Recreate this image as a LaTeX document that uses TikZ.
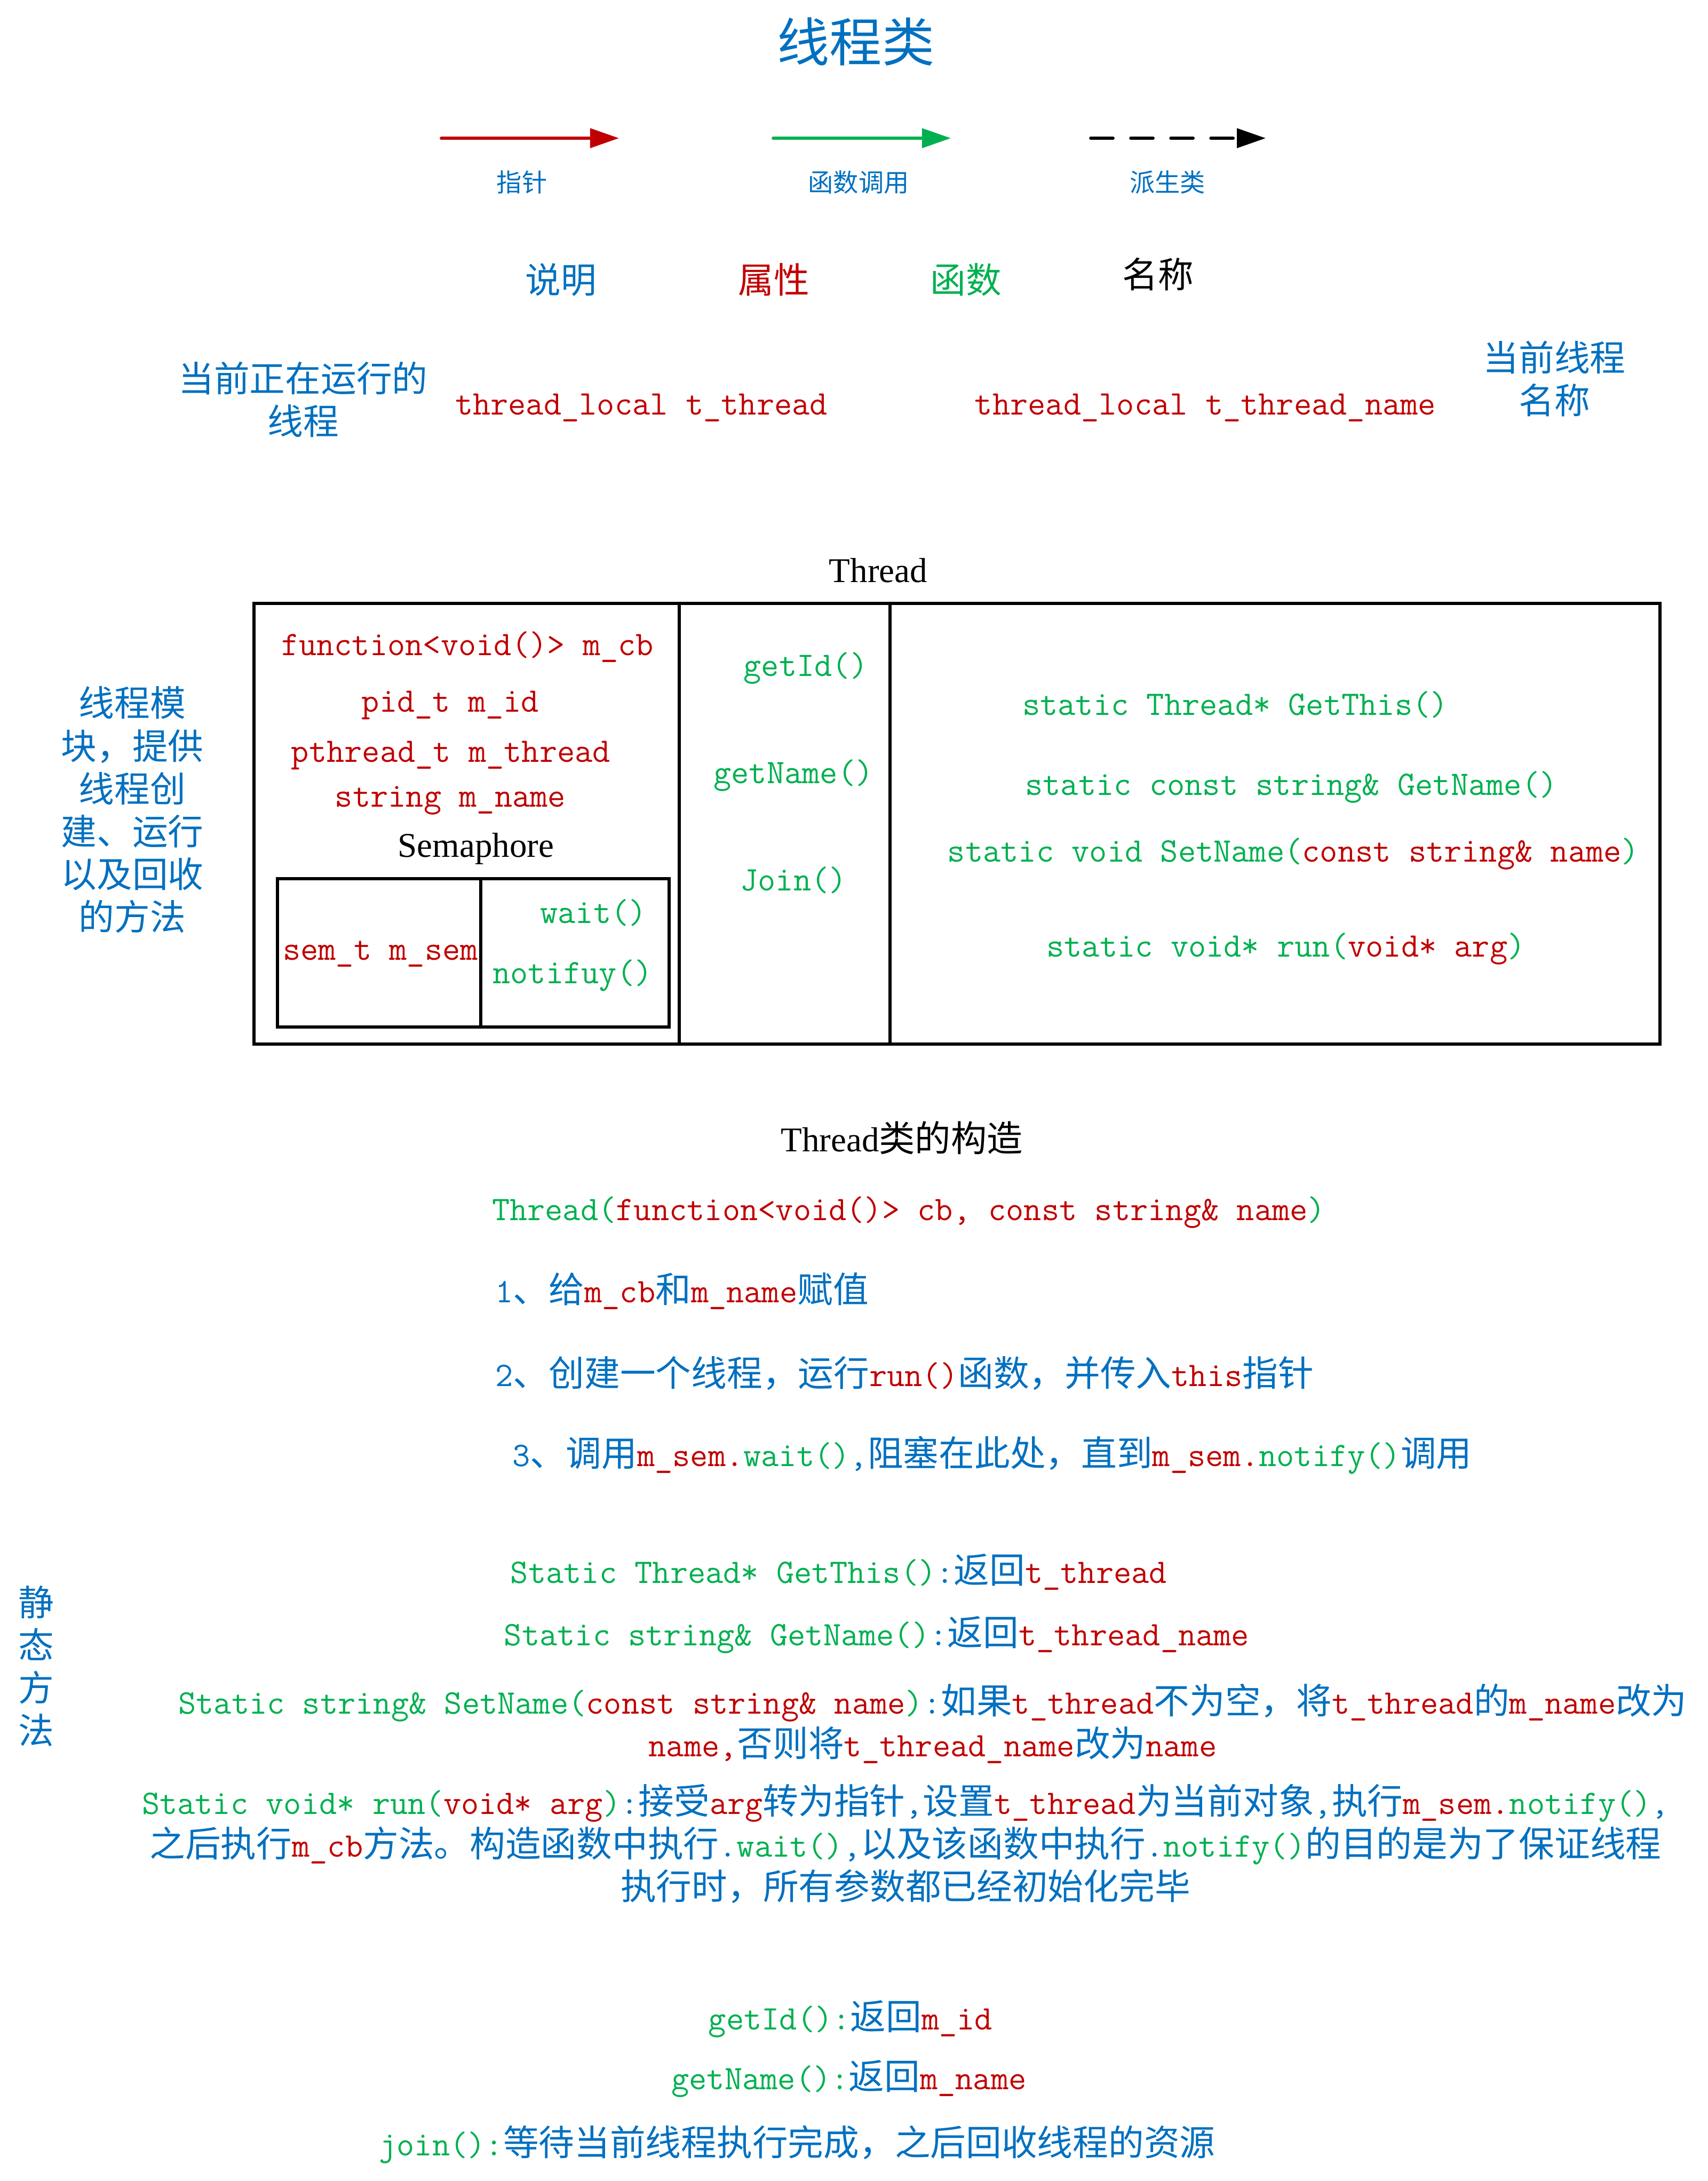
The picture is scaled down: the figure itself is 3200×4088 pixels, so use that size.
\documentclass[tikz,border=0pt]{standalone}
\usepackage{fontspec}
\setmainfont{Liberation Serif}
\newfontfamily\cjk[Scale=1.034]{Noto Sans CJK SC}
\usetikzlibrary{arrows.meta}
\definecolor{cblue}{HTML}{0070C0}
\definecolor{cred}{HTML}{C00000}
\definecolor{cgreen}{HTML}{00B050}
\newcommand\zh[1]{{\cjk #1}}
\newcommand\tr[1]{\textcolor{cred}{#1}}
\newcommand\tg[1]{\textcolor{cgreen}{#1}}
\newcommand\tb[1]{\textcolor{cblue}{#1}}
\newcommand\bodyfont{\fontsize{18.35pt}{22.8pt}\selectfont\ttfamily}
\newcommand\serfont{\fontsize{18.5pt}{22.8pt}\selectfont\rmfamily}
\tikzset{
  txt/.style={inner sep=0pt, font=\bodyfont, align=center},
  stxt/.style={inner sep=0pt, font=\serfont, align=center},
  legtxt/.style={inner sep=0pt, font=\fontsize{13pt}{16pt}\selectfont\cjk, text=cblue},
  boxline/.style={line width=1.85pt, line join=miter},
  legarrow/.style={line width=1.62pt, line cap=round, -{Triangle[length=0.54cm,width=0.36cm]}},
}
\begin{document}
\begin{tikzpicture}[x=0.01cm,y=-0.01cm]
\useasboundingbox (0,0) rectangle (3200,4088);
% title
\node[inner sep=0pt, font=\fontsize{27pt}{30pt}\selectfont\cjk, text=cblue] (title) at (1604,78) {线程类};
% legend
\coordinate (ra) at (827,259); \coordinate (rb) at (1160,259);
\coordinate (ga) at (1449,259); \coordinate (gb) at (1782,259);
\coordinate (ka) at (2044,259); \coordinate (kb) at (2372,259);
\draw[legarrow, cred] (ra) -- (rb);
\draw[legarrow, cgreen] (ga) -- (gb);
\draw[legarrow, black, dash pattern=on 0.42cm off 0.33cm] (ka) -- (kb);
\node[legtxt] (l1) at (978,342) {指针};
\node[legtxt] (l2) at (1609,342) {函数调用};
\node[legtxt] (l3) at (2188,342) {派生类};
% key row
\node[txt, text=cblue] (k1) at (1051,524) {\zh{说明}};
\node[txt, text=cred] (k2) at (1450,524) {\zh{属性}};
\node[txt, text=cgreen] (k3) at (1810,524) {\zh{函数}};
\node[txt, text=black] (k4) at (2170,514) {\zh{名称}};
% thread locals
\node[txt, text=cblue] (d1) at (568,749) {\zh{当前正在运行的}\\\zh{线程}};
\node[txt, text=cred] (v1) at (1202,764) {thread\_local t\_thread};
\node[txt, text=cred] (v2) at (2259,764) {thread\_local t\_thread\_name};
\node[txt, text=cblue] (d2) at (2913,710) {\zh{当前线程}\\\zh{名称}};
% class box
\node[stxt] (cls) at (1646,1069) {Thread};
\draw[boxline] (476,1131) rectangle (3111,1957);
\draw[boxline] (1273,1131) -- (1273,1957);
\draw[boxline] (1668,1131) -- (1668,1957);
\draw[boxline] (520,1647) rectangle (1254,1925);
\draw[boxline] (901,1647) -- (901,1925);
\node[txt, text=cred] (a1) at (876,1213) {function<void()> m\_cb};
\node[txt, text=cred] (a2) at (844,1322) {pid\_t m\_id};
\node[txt, text=cred] (a3) at (845,1416) {pthread\_t m\_thread};
\node[txt, text=cred] (a4) at (844,1500) {string m\_name};
\node[stxt] (sem) at (892,1591) {Semaphore};
\node[txt, text=cred] (a5) at (713,1788) {sem\_t m\_sem};
\node[txt, text=cgreen] (f1) at (1112,1711) {wait()};
\node[txt, text=cgreen] (f2) at (1073,1828) {notifuy()};
\node[txt, text=cgreen] (m1) at (1510,1252) {getId()};
\node[txt, text=cgreen] (m2) at (1487,1453) {getName()};
\node[txt, text=cgreen] (m3) at (1487,1650) {Join()};
\node[txt, text=cgreen] (s1) at (2315,1321) {static Thread* GetThis()};
\node[txt, text=cgreen] (s2) at (2420,1475) {static const string\& GetName()};
\node[txt, text=cgreen] (s3) at (2424,1600) {static void SetName(\tr{const string\& name})};
\node[txt, text=cgreen] (s4) at (2410,1778) {static void* run(\tr{void* arg})};
\node[txt, text=cblue] (mod) at (248,1518) {\zh{线程模}\\\zh{块，提供}\\\zh{线程创}\\\zh{建、运行}\\\zh{以及回收}\\\zh{的方法}};
% constructor
\node[stxt] (c0) at (1690,2133) {Thread\zh{类的构造}};
\node[txt] (c1) at (1703,2272) {\tg{Thread(}\tr{function<void()> cb, const string\& name}\tg{)}};
\node[txt, anchor=west] (c2) at (928,2420) {\tb{1\zh{、给}}\tr{m\_cb}\tb{\zh{和}}\tr{m\_name}\tb{\zh{赋值}}};
\node[txt, anchor=west] (c3) at (928,2574) {\tb{2\zh{、创建一个线程，运行}}\tr{run()}\tb{\zh{函数，并传入}}\tr{this}\tb{\zh{指针}}};
\node[txt, anchor=west] (c4) at (960,2728) {\tb{3\zh{、调用}}\tr{m\_sem.}\tg{wait()}\tb{,\zh{阻塞在此处，直到}}\tr{m\_sem.}\tg{notify()}\tb{\zh{调用}}};
% static methods
\node[txt, text=cblue] (st) at (68,3123) {\zh{静}\\\zh{态}\\\zh{方}\\\zh{法}};
\node[txt] (e1) at (1572,2946) {\tg{Static Thread* GetThis()}\tb{:\zh{返回}}\tr{t\_thread}};
\node[txt] (e2) at (1643,3064) {\tg{Static string\& GetName()}\tb{:\zh{返回}}\tr{t\_thread\_name}};
\node[txt] (e3) at (1748,3231) {\tg{Static string\& SetName(}\tr{const string\& name}\tg{)}\tb{:\zh{如果}}\tr{t\_thread}\tb{\zh{不为空，将}}\tr{t\_thread}\tb{\zh{的}}\tr{m\_name}\tb{\zh{改为}}\\\tr{name,}\tb{\zh{否则将}}\tr{t\_thread\_name}\tb{\zh{改为}}\tr{name}};
\node[txt] (e4) at (1697,3456) {\tg{Static void* run(}\tr{void* arg}\tg{)}\tb{:\zh{接受}}\tr{arg}\tb{\zh{转为指针},\zh{设置}}\tr{t\_thread}\tb{\zh{为当前对象},\zh{执行}}\tr{m\_sem.}\tg{notify()}\tb{,}\\\tb{\zh{之后执行}}\tr{m\_cb}\tb{\zh{方法。构造函数中执行}.}\tg{wait()}\tb{,\zh{以及该函数中执行}.}\tg{notify()}\tb{\zh{的目的是为了保证线程}}\\\tb{\zh{执行时，所有参数都已经初始化完毕}}};
% member methods
\node[txt] (g1) at (1594,3784) {\tg{getId():}\tb{\zh{返回}}\tr{m\_id}};
\node[txt] (g2) at (1591,3896) {\tg{getName():}\tb{\zh{返回}}\tr{m\_name}};
\node[txt] (g3) at (1494,4019) {\tg{join():}\tb{\zh{等待当前线程执行完成，之后回收线程的资源}}};
\end{tikzpicture}
\end{document}
